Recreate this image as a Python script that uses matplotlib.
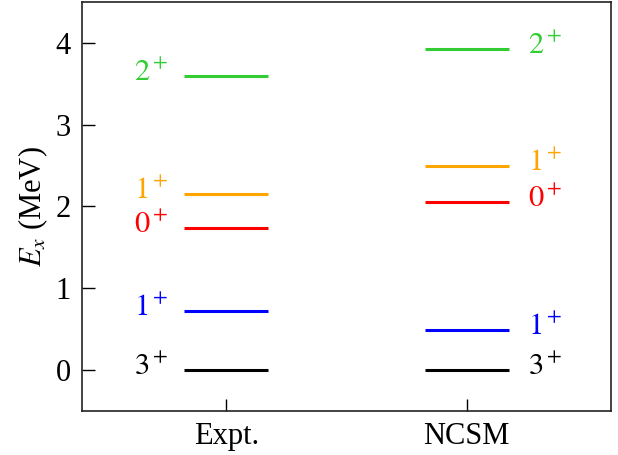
import matplotlib
matplotlib.use('Agg')
import matplotlib.pyplot as plt

plt.rcParams['font.family'] = ['Liberation Serif', 'DejaVu Serif']
plt.rcParams['mathtext.fontset'] = 'stix'

# 能级数据
columns = ['Expt.', 'NCSM']
expt_levels = [0.0, 0.72, 1.74, 2.15, 3.59]
ncsm_levels = [0.0, 0.49, 2.05, 2.49, 3.93]
level_labels = ['$3^+$', '$1^+$', '$0^+$', '$1^+$', '$2^+$']
level_colors = ['black', 'blue', 'red', 'orange', 'limegreen']

fig = plt.figure(figsize=(6.18, 4.55), dpi=100)
ax = fig.add_axes([0.1327, 0.0974, 0.856, 0.8982])

half = 0.175
for col, levels in enumerate([expt_levels, ncsm_levels], start=1):
    for e, lab, c in zip(levels, level_labels, level_colors):
        ax.plot([col - half, col + half], [e, e], color=c, lw=2.2, solid_capstyle='butt')
        if col == 1:
            ax.text(col - 0.24, e + 0.03, lab, color=c, fontsize=22, ha='right', va='center')
        else:
            ax.text(col + 0.255, e + 0.03, lab, color=c, fontsize=22, ha='left', va='center')

ax.set_xlim(0.4, 2.6)
ax.set_ylim(-0.5, 4.5)
ax.set_xticks([1, 2])
ax.set_xticklabels(columns)
ax.set_yticks([0, 1, 2, 3, 4])
ax.tick_params(direction='in', length=9, width=1, labelsize=22, pad=8)
ax.set_ylabel('$E_x$ (MeV)', fontsize=22, labelpad=4)
for s in ax.spines.values():
    s.set_linewidth(1.2)
    s.set_color('#222222')

fig.savefig('out.png', dpi=100)
